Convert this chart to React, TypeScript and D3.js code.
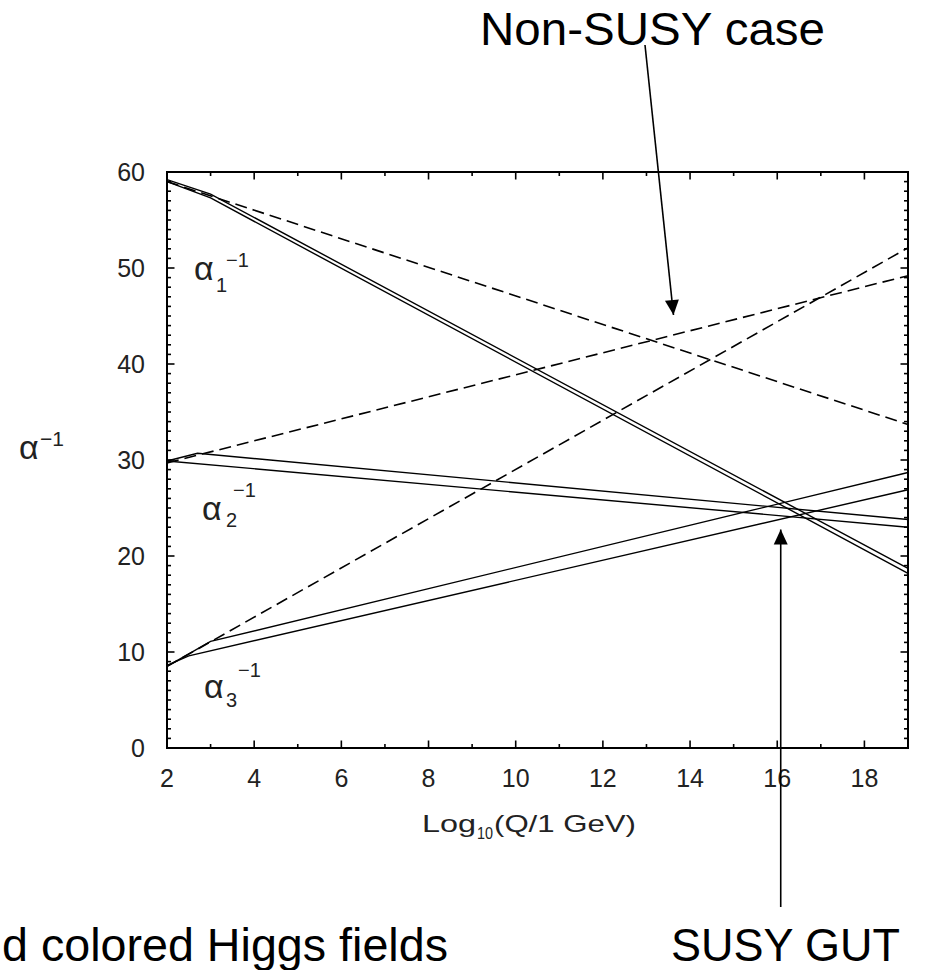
import React from 'react';
import * as d3 from 'd3';

const WIDTH = 934;
const HEIGHT = 970;
const FRAME = { left: 167, top: 172, right: 908, bottom: 748 };
const FONT = '"Liberation Sans", Arial, Helvetica, sans-serif';

const X_DOMAIN: [number, number] = [2, 19];
const Y_DOMAIN: [number, number] = [0, 60];
const X_TICKS = [2, 4, 6, 8, 10, 12, 14, 16, 18];
const Y_TICKS = [0, 10, 20, 30, 40, 50, 60];

// [log10(Q/1 GeV), alpha^-1] points
// Standard Model running (dashed)
const SM_A1 = [[2, 59.0], [19, 33.7]];
const SM_A2 = [[2, 29.7], [19, 49.2]];
const SM_A3 = [[2, 8.5], [19, 52.1]];

// MSSM running (solid), two curves per coupling
const SUSY_A1_UP = [[2, 59.2], [3, 57.7], [19, 18.7]];
const SUSY_A1_LO = [[2, 59.0], [3, 57.3], [19, 18.2]];
const SUSY_A2_UP = [[2, 29.9], [2.7, 30.7], [19, 23.8]];
const SUSY_A2_LO = [[2, 29.9], [19, 23.0]];
const SUSY_A3_UP = [[2, 8.5], [3, 11.1], [19, 28.7]];
const SUSY_A3_LO = [[2, 8.6], [2.5, 9.6], [19, 26.9]];

// annotation arrow tips (data coords)
const NON_SUSY_TIP = [13.62, 45.1];
const SUSY_GUT_TIP = [16.08, 22.75];

const App = () => {
  const x = d3.scaleLinear().domain(X_DOMAIN).range([FRAME.left, FRAME.right]);
  const y = d3.scaleLinear().domain(Y_DOMAIN).range([FRAME.bottom, FRAME.top]);

  const line = d3
    .line<number[]>()
    .x((d) => x(d[0]))
    .y((d) => y(d[1]));

  const dashed = [SM_A1, SM_A2, SM_A3];
  const solid = [SUSY_A1_UP, SUSY_A1_LO, SUSY_A2_UP, SUSY_A2_LO, SUSY_A3_UP, SUSY_A3_LO];

  const xMinor = d3.range(X_DOMAIN[0], X_DOMAIN[1] + 1, 1);
  const yMinor = d3.range(Y_DOMAIN[0], Y_DOMAIN[1] + 1, 1);

  const ticks: JSX.Element[] = [];
  xMinor.forEach((v) => {
    const len = v % 2 === 0 ? 7.5 : 4;
    const px = x(v);
    ticks.push(<line key={'xb' + v} x1={px} x2={px} y1={FRAME.bottom} y2={FRAME.bottom - len} />);
    ticks.push(<line key={'xt' + v} x1={px} x2={px} y1={FRAME.top} y2={FRAME.top + len} />);
  });
  yMinor.forEach((v) => {
    const len = v % 10 === 0 ? 7.5 : 4;
    const py = y(v);
    ticks.push(<line key={'yl' + v} x1={FRAME.left} x2={FRAME.left + len} y1={py} y2={py} />);
    ticks.push(<line key={'yr' + v} x1={FRAME.right} x2={FRAME.right - len} y1={py} y2={py} />);
  });

  const nsTip = [x(NON_SUSY_TIP[0]), y(NON_SUSY_TIP[1])];
  const sgTip = [x(SUSY_GUT_TIP[0]), y(SUSY_GUT_TIP[1])];
  const nsStart = [645, 45];
  const nsAng = Math.atan2(nsTip[1] - nsStart[1], nsTip[0] - nsStart[0]);
  const head = (tip: number[], ang: number) => {
    const l = 15;
    const w = 7;
    const bx = tip[0] - l * Math.cos(ang);
    const by = tip[1] - l * Math.sin(ang);
    const nx = -Math.sin(ang) * w;
    const ny = Math.cos(ang) * w;
    return `${tip[0]},${tip[1]} ${bx + nx},${by + ny} ${bx - nx},${by - ny}`;
  };

  return (
    <svg
      width={WIDTH}
      height={HEIGHT}
      style={{ position: 'absolute', left: 0, top: 0, background: '#fff' }}
      fontFamily={FONT}
    >
      <rect x={0} y={0} width={WIDTH} height={HEIGHT} fill="#fff" />

      {/* curves */}
      <g fill="none" stroke="#000" strokeWidth={1.4}>
        {dashed.map((d, i) => (
          <path key={'d' + i} d={line(d) || ''} strokeDasharray="12,6" strokeWidth={1.6} />
        ))}
        {solid.map((d, i) => (
          <path key={'s' + i} d={line(d) || ''} />
        ))}
      </g>

      {/* frame and ticks */}
      <g stroke="#000" strokeWidth={1.6}>
        {ticks}
        <rect
          x={FRAME.left}
          y={FRAME.top}
          width={FRAME.right - FRAME.left}
          height={FRAME.bottom - FRAME.top}
          fill="none"
          strokeWidth={2}
        />
      </g>

      {/* tick labels */}
      <g fontSize={25} fill="#222">
        {X_TICKS.map((v) => (
          <text key={'xl' + v} x={x(v)} y={787} textAnchor="middle">
            {v}
          </text>
        ))}
        {Y_TICKS.map((v) => (
          <text key={'yl' + v} x={145} y={y(v) + 9} textAnchor="end">
            {v}
          </text>
        ))}
      </g>

      {/* axis titles */}
      <g fill="#222" fontSize={24}>
        <text x={422} y={832} textLength={54} lengthAdjust="spacingAndGlyphs">Log</text>
        <text x={477} y={839} fontSize={16} textLength={16} lengthAdjust="spacingAndGlyphs">10</text>
        <text x={494} y={832} textLength={142} lengthAdjust="spacingAndGlyphs">(Q/1 GeV)</text>
      </g>
      <g fill="#222">
        <text x={19} y={459} fontSize={34}>α</text>
        <text x={40} y={446} fontSize={21}>−1</text>
      </g>

      {/* coupling labels */}
      <g fill="#222">
        <text x={194} y={280} fontSize={34}>α</text>
        <text x={216} y={292} fontSize={20}>1</text>
        <text x={226} y={267} fontSize={20}>−1</text>

        <text x={202} y={520} fontSize={34}>α</text>
        <text x={226} y={527} fontSize={20}>2</text>
        <text x={233} y={497} fontSize={20}>−1</text>

        <text x={204} y={698} fontSize={34}>α</text>
        <text x={226} y={707} fontSize={20}>3</text>
        <text x={238} y={677} fontSize={20}>−1</text>
      </g>

      {/* annotations */}
      <g stroke="#000" strokeWidth={1.6}>
        <line x1={nsStart[0]} y1={nsStart[1]} x2={nsTip[0]} y2={nsTip[1]} />
        <line x1={sgTip[0]} y1={907} x2={sgTip[0]} y2={sgTip[1]} />
      </g>
      <polygon points={head(nsTip, nsAng)} fill="#000" />
      <polygon points={head(sgTip, -Math.PI / 2)} fill="#000" />

      <g fontSize={46} fill="#000">
        <text x={480} y={45} textLength={345} lengthAdjust="spacingAndGlyphs">
          Non-SUSY case
        </text>
        <text x={2} y={961} textLength={446} lengthAdjust="spacingAndGlyphs">
          d colored Higgs fields
        </text>
        <text x={671} y={961} textLength={229} lengthAdjust="spacingAndGlyphs">
          SUSY GUT
        </text>
      </g>
    </svg>
  );
};

export default App;
